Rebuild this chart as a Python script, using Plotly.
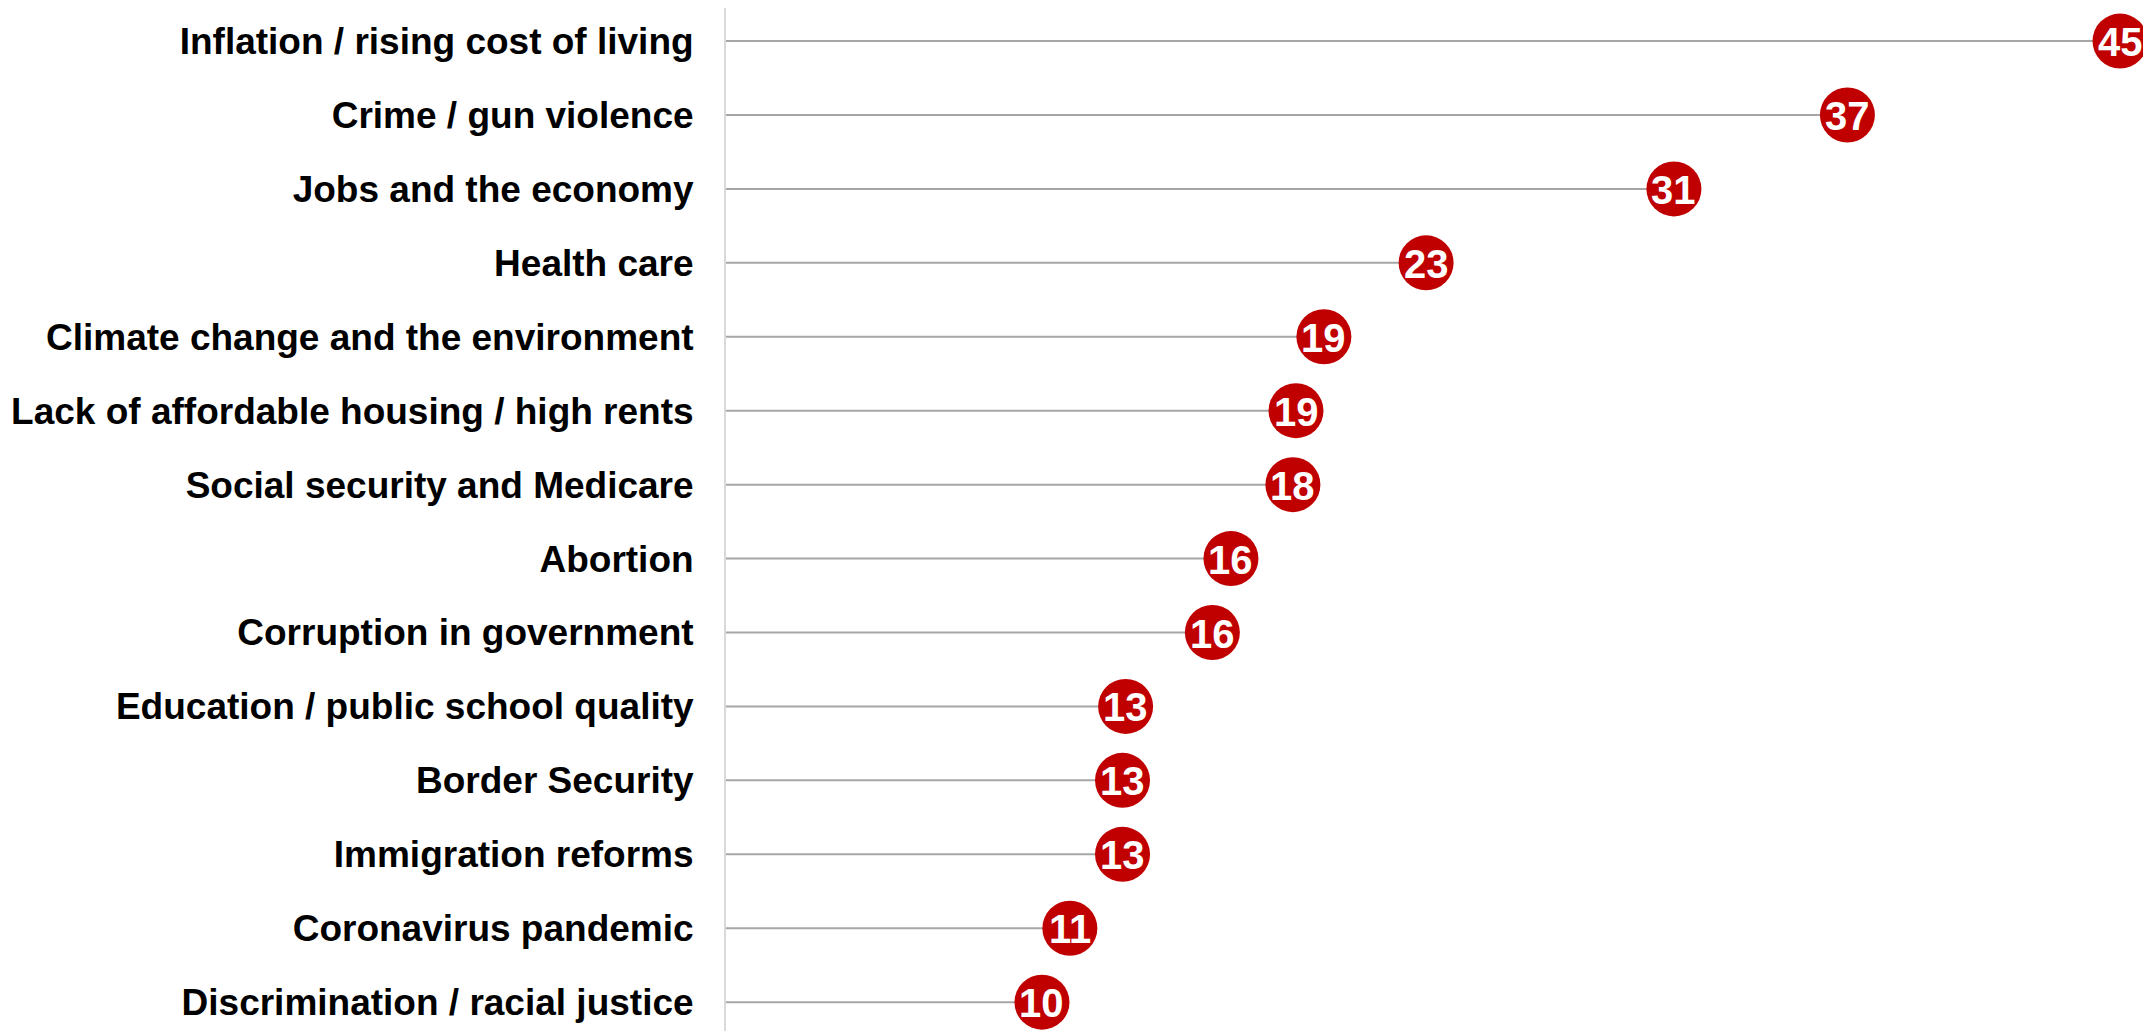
import plotly.graph_objects as go

issues = [
    "Inflation / rising cost of living",
    "Crime / gun violence",
    "Jobs and the economy",
    "Health care",
    "Climate change and the environment",
    "Lack of affordable housing / high rents",
    "Social security and Medicare",
    "Abortion",
    "Corruption in government",
    "Education / public school quality",
    "Border Security",
    "Immigration reforms",
    "Coronavirus pandemic",
    "Discrimination / racial justice",
]
values = [45.0, 36.2, 30.6, 22.6, 19.3, 18.4, 18.3, 16.3, 15.7, 12.9, 12.8, 12.8, 11.1, 10.2]
labels = ["45", "37", "31", "23", "19", "19", "18", "16", "16", "13", "13", "13", "11", "10"]

rows = list(range(len(issues)))

# stems from the axis to each dot
line_x, line_y = [], []
for r, v in zip(rows, values):
    line_x += [0, v, None]
    line_y += [r, r, None]

fig = go.Figure()

fig.add_trace(go.Scatter(
    x=line_x, y=line_y, mode="lines",
    line=dict(color="#a6a6a6", width=2),
    hoverinfo="skip", showlegend=False,
))

fig.add_trace(go.Scatter(
    x=values, y=rows, mode="markers",
    marker=dict(size=55, color="#c00000", line=dict(width=0)),
    showlegend=False,
))

# numbers inside the dots
for r, v, lab in zip(rows, values, labels):
    fig.add_annotation(
        x=v, y=r, text=lab, showarrow=False, yshift=-1,
        font=dict(family="Liberation Sans, Arial, sans-serif", size=40, color="white", weight="bold"),
    )

fig.update_xaxes(
    range=[0, 46], visible=False, showgrid=False, zeroline=False,
)
fig.update_yaxes(
    range=[13.39, -0.447], tickvals=rows, ticktext=issues,
    showgrid=False, zeroline=False,
    showline=True, linecolor="#d9d9d9", linewidth=2,
    ticks="", ticklabelstandoff=23,
    tickfont=dict(family="Liberation Sans, Arial, sans-serif", size=37, color="black", weight="bold"),
)

# page body has an 8px margin, so the figure is a bit smaller than the window
fig.update_layout(
    width=2143, height=1023,
    margin=dict(l=718, r=0, t=0, b=0),
    plot_bgcolor="white", paper_bgcolor="white",
)

fig.write_html("out.html")
